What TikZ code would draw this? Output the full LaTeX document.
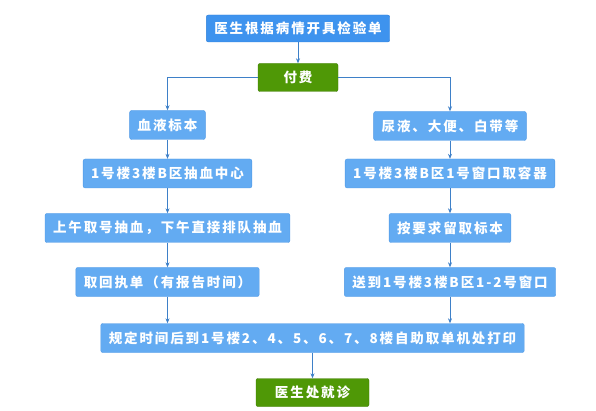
\documentclass[tikz,border=0pt]{standalone}
\usepackage{fontspec}
\setmainfont{Noto Sans CJK SC}[LetterSpace=14]
\usetikzlibrary{arrows.meta}

\definecolor{topblue}{HTML}{3E93EE}
\definecolor{topedge}{HTML}{2F7FD8}
\definecolor{boxblue}{HTML}{63ABF2}
\definecolor{boxedge}{HTML}{4E98E4}
\definecolor{paygreen}{HTML}{4F9806}
\definecolor{payedge}{HTML}{3C7A00}
\definecolor{linkblue}{HTML}{3E80C8}

\begin{document}
\begin{tikzpicture}[x=1pt,y=-1pt,
    stepbox/.style={draw=boxedge,fill=boxblue,rounded corners=2pt,text=white,
        font=\fontsize{13.5}{14}\selectfont\bfseries,inner xsep=8pt,
        minimum height=29pt},
    headbox/.style={stepbox,draw=topedge,fill=topblue,minimum height=27pt},
    greenbox/.style={stepbox,draw=payedge,fill=paygreen,minimum height=28pt},
    link/.style={draw=linkblue,line width=0.6pt,-{Stealth[length=5pt,width=4pt]}}]
    \useasboundingbox (0,0) rectangle (596,411);

    \node [headbox] (order) at (298,28.5) {医生根据病情开具检验单};
    \node [greenbox,minimum width=80pt] (pay) at (298,77.5) {付费};

    % left column
    \node [stepbox] (blood)   at (167.5,125)   {血液标本};
    \node [stepbox] (draw)    at (167.5,173.5) {1号楼3楼B区抽血中心};
    \node [stepbox] (queue)   at (167.5,228)   {上午取号抽血，下午直接排队抽血};
    \node [stepbox] (receipt) at (167.5,282)   {取回执单（有报告时间）};

    % right column
    \node [stepbox] (urine)   at (450,126)   {尿液、大便、白带等};
    \node [stepbox] (cup)     at (450,173.5) {1号楼3楼B区1号窗口取容器};
    \node [stepbox] (sample)  at (450,228)   {按要求留取标本};
    \node [stepbox] (window)  at (450,282)   {送到1号楼3楼B区1-2号窗口};

    \node [stepbox] (print)  at (312.5,338)   {规定时间后到1号楼2、4、5、6、7、8楼自助取单机处打印};
    \node [greenbox,minimum width=113pt] (doctor) at (312.5,392.5) {医生处就诊};

    \draw [link] (order) -- (pay);
    \draw [link] (pay.west) -| (blood.north);
    \draw [link] (pay.east) -| (urine.north);
    \draw [link] (blood) -- (draw);
    \draw [link] (draw) -- (queue);
    \draw [link] (queue) -- (receipt);
    \draw [link] (urine) -- (cup);
    \draw [link] (cup) -- (sample);
    \draw [link] (sample) -- (window);
    \draw [link] (receipt) -- (receipt |- print.north);
    \draw [link] (window) -- (window |- print.north);
    \draw [link] (print.south -| doctor) -- (doctor);
\end{tikzpicture}
\end{document}
